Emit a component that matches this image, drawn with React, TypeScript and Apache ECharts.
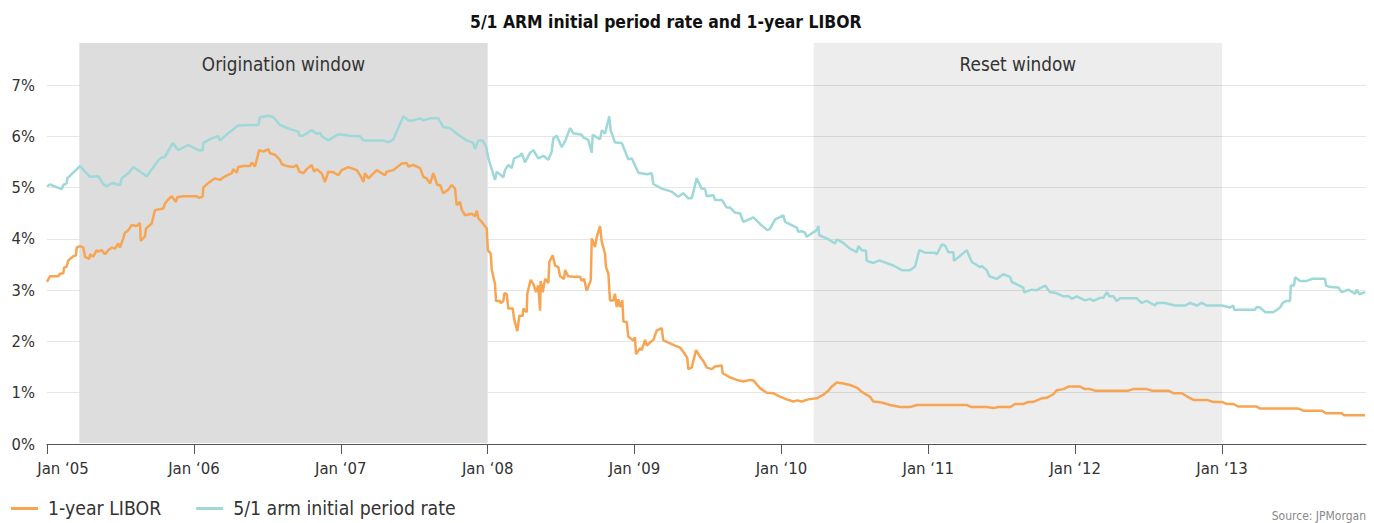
import React, { useEffect, useRef } from "react";
import * as echarts from "echarts";

const START_YEAR = 2005;
const END_YEAR = 2013.98;
const yearTicks = [2005, 2006, 2007, 2008, 2009, 2010, 2011, 2012, 2013];
const windowLabels = ["Origination window", "Reset window"];
const windowRanges: [number, number][] = [
  [2005.22, 2008.0],
  [2010.22, 2013.0],
];
const seriesNames = ["1-year LIBOR", "5/1 arm initial period rate"];

// [years since Jan 2005, rate %]
const liborData: [number, number][] = [
  [0, 3.16], [0.02, 3.27], [0.077, 3.27], [0.089, 3.32], [0.111, 3.33], [0.116, 3.44], [0.134, 3.46], [0.145, 3.58],
  [0.179, 3.66], [0.197, 3.68], [0.202, 3.83], [0.225, 3.86], [0.247, 3.83], [0.259, 3.65], [0.288, 3.61], [0.293, 3.7],
  [0.315, 3.65], [0.338, 3.78], [0.349, 3.75], [0.372, 3.78], [0.395, 3.7], [0.417, 3.78], [0.441, 3.83], [0.463, 3.81],
  [0.485, 3.91], [0.497, 3.83], [0.519, 4.01], [0.531, 4.12], [0.554, 4.17], [0.577, 4.27], [0.611, 4.25], [0.633, 4.31],
  [0.638, 3.96], [0.667, 4.05], [0.674, 4.2], [0.713, 4.3], [0.735, 4.56], [0.792, 4.59], [0.803, 4.69], [0.826, 4.77],
  [0.849, 4.83], [0.878, 4.72], [0.887, 4.81], [0.928, 4.83], [1.019, 4.83], [1.037, 4.8], [1.06, 4.83], [1.064, 5.0],
  [1.098, 5.09], [1.144, 5.18], [1.178, 5.15], [1.212, 5.22], [1.258, 5.28], [1.268, 5.36], [1.292, 5.29], [1.302, 5.4],
  [1.337, 5.42], [1.382, 5.42], [1.394, 5.49], [1.416, 5.41], [1.445, 5.73], [1.473, 5.7], [1.507, 5.75], [1.518, 5.67],
  [1.552, 5.64], [1.586, 5.54], [1.598, 5.46], [1.632, 5.42], [1.677, 5.4], [1.7, 5.44], [1.718, 5.31], [1.745, 5.28],
  [1.768, 5.36], [1.802, 5.44], [1.818, 5.31], [1.836, 5.36], [1.87, 5.28], [1.893, 5.11], [1.915, 5.31], [1.949, 5.3],
  [1.983, 5.24], [2.006, 5.34], [2.051, 5.4], [2.109, 5.34], [2.136, 5.22], [2.154, 5.11], [2.165, 5.28], [2.188, 5.18],
  [2.245, 5.34], [2.301, 5.24], [2.313, 5.31], [2.358, 5.34], [2.415, 5.47], [2.449, 5.48], [2.46, 5.41], [2.494, 5.44],
  [2.54, 5.38], [2.562, 5.21], [2.585, 5.18], [2.608, 5.08], [2.63, 5.28], [2.657, 5.05], [2.676, 5.05], [2.698, 4.89],
  [2.732, 4.96], [2.755, 5.05], [2.778, 4.98], [2.789, 4.66], [2.812, 4.72], [2.823, 4.57], [2.846, 4.46], [2.892, 4.49],
  [2.914, 4.44], [2.926, 4.55], [2.937, 4.4], [2.96, 4.33], [2.994, 4.2], [3.001, 3.78], [3.021, 3.71], [3.028, 3.4],
  [3.05, 3.12], [3.057, 2.79], [3.084, 2.79], [3.089, 2.75], [3.107, 2.79], [3.114, 2.94], [3.13, 2.92], [3.141, 2.64],
  [3.171, 2.64], [3.18, 2.44], [3.202, 2.2], [3.216, 2.5], [3.239, 2.5], [3.243, 2.64], [3.266, 2.57], [3.27, 2.93],
  [3.293, 3.2], [3.311, 3.12], [3.329, 2.96], [3.345, 3.09], [3.357, 2.6], [3.361, 3.18], [3.375, 2.96], [3.391, 3.22],
  [3.413, 3.14], [3.42, 3.55], [3.443, 3.68], [3.459, 3.48], [3.481, 3.45], [3.493, 3.27], [3.52, 3.22], [3.527, 3.39],
  [3.549, 3.27], [3.583, 3.26], [3.629, 3.26], [3.64, 3.18], [3.656, 3.22], [3.675, 2.99], [3.702, 3.19], [3.709, 4.01],
  [3.731, 3.84], [3.743, 4.04], [3.765, 4.25], [3.777, 3.94], [3.799, 3.71], [3.806, 3.45], [3.822, 3.32], [3.833, 2.8],
  [3.856, 2.8], [3.867, 2.93], [3.879, 2.67], [3.89, 2.82], [3.901, 2.67], [3.917, 2.8], [3.924, 2.39], [3.947, 2.38],
  [3.958, 2.09], [3.992, 2.02], [4.003, 2.08], [4.01, 1.75], [4.037, 1.87], [4.049, 1.83], [4.072, 2.03], [4.083, 1.92],
  [4.106, 1.98], [4.128, 2.03], [4.151, 2.21], [4.185, 2.26], [4.196, 2.02], [4.219, 1.99], [4.276, 1.92], [4.31, 1.88],
  [4.344, 1.75], [4.359, 1.68], [4.366, 1.46], [4.389, 1.49], [4.419, 1.83], [4.446, 1.7], [4.468, 1.62], [4.492, 1.49],
  [4.526, 1.46], [4.548, 1.51], [4.594, 1.53], [4.6, 1.38], [4.65, 1.3], [4.696, 1.25], [4.741, 1.22], [4.786, 1.25],
  [4.809, 1.24], [4.854, 1.09], [4.9, 1.0], [4.945, 0.99], [4.979, 0.94], [5.036, 0.87], [5.081, 0.83], [5.109, 0.85],
  [5.138, 0.83], [5.183, 0.87], [5.24, 0.89], [5.285, 0.96], [5.32, 1.04], [5.343, 1.12], [5.377, 1.2], [5.422, 1.18],
  [5.467, 1.15], [5.513, 1.1], [5.547, 1.02], [5.603, 0.92], [5.626, 0.83], [5.683, 0.81], [5.74, 0.76], [5.808, 0.72],
  [5.876, 0.72], [5.921, 0.76], [6.262, 0.76], [6.296, 0.72], [6.398, 0.72], [6.443, 0.7], [6.477, 0.72], [6.557, 0.72],
  [6.591, 0.78], [6.647, 0.78], [6.681, 0.82], [6.715, 0.82], [6.772, 0.89], [6.806, 0.9], [6.851, 0.97], [6.875, 1.05],
  [6.92, 1.07], [6.954, 1.12], [7.033, 1.12], [7.067, 1.07], [7.101, 1.07], [7.135, 1.04], [7.362, 1.04], [7.396, 1.07],
  [7.487, 1.07], [7.521, 1.04], [7.634, 1.04], [7.668, 0.99], [7.726, 0.99], [7.76, 0.93], [7.805, 0.86], [7.896, 0.86],
  [7.941, 0.82], [7.998, 0.82], [8.032, 0.78], [8.077, 0.78], [8.111, 0.73], [8.236, 0.73], [8.259, 0.69], [8.52, 0.69],
  [8.554, 0.65], [8.679, 0.65], [8.708, 0.6], [8.815, 0.6], [8.831, 0.56], [8.974, 0.56],
];

const armData: [number, number][] = [
  [0, 5.02], [0.02, 5.06], [0.1, 4.97], [0.111, 5.05], [0.134, 5.08], [0.138, 5.18], [0.225, 5.42], [0.259, 5.31],
  [0.293, 5.21], [0.349, 5.22], [0.383, 5.07], [0.406, 5.02], [0.441, 5.09], [0.497, 5.05], [0.509, 5.18], [0.554, 5.28],
  [0.588, 5.4], [0.679, 5.22], [0.735, 5.44], [0.769, 5.57], [0.803, 5.6], [0.856, 5.87], [0.894, 5.73], [0.962, 5.83],
  [1.03, 5.73], [1.06, 5.73], [1.064, 5.87], [1.121, 5.96], [1.166, 6.0], [1.178, 5.92], [1.234, 6.06], [1.302, 6.21],
  [1.382, 6.22], [1.439, 6.22], [1.45, 6.37], [1.507, 6.4], [1.541, 6.37], [1.586, 6.22], [1.654, 6.14], [1.711, 6.09],
  [1.718, 6.01], [1.745, 6.01], [1.802, 6.12], [1.836, 6.05], [1.859, 6.07], [1.87, 6.0], [1.915, 5.92], [1.983, 6.04],
  [2.063, 6.01], [2.131, 6.0], [2.154, 5.92], [2.29, 5.92], [2.324, 5.88], [2.358, 5.94], [2.426, 6.39], [2.46, 6.31],
  [2.494, 6.31], [2.54, 6.35], [2.562, 6.31], [2.608, 6.35], [2.664, 6.35], [2.698, 6.18], [2.744, 6.16], [2.789, 6.05],
  [2.858, 5.92], [2.902, 5.87], [2.914, 5.75], [2.937, 5.92], [2.966, 5.92], [2.989, 5.8], [3.005, 5.57], [3.05, 5.15],
  [3.062, 5.31], [3.107, 5.2], [3.118, 5.34], [3.141, 5.44], [3.164, 5.38], [3.18, 5.57], [3.22, 5.62], [3.232, 5.67],
  [3.254, 5.49], [3.289, 5.68], [3.311, 5.73], [3.345, 5.57], [3.379, 5.62], [3.413, 5.54], [3.436, 5.7], [3.447, 5.96],
  [3.47, 6.01], [3.504, 5.79], [3.527, 5.9], [3.561, 6.16], [3.583, 6.06], [3.64, 6.03], [3.651, 5.98], [3.685, 5.93],
  [3.709, 5.68], [3.715, 6.03], [3.765, 5.94], [3.777, 6.12], [3.799, 6.05], [3.828, 6.39], [3.838, 6.11], [3.867, 5.88],
  [3.913, 5.87], [3.958, 5.55], [3.981, 5.57], [4.026, 5.29], [4.083, 5.26], [4.117, 5.28], [4.128, 5.07], [4.185, 4.98],
  [4.253, 4.92], [4.298, 4.82], [4.332, 4.89], [4.366, 4.79], [4.389, 4.79], [4.423, 5.18], [4.457, 4.98], [4.48, 4.97],
  [4.492, 4.83], [4.537, 4.85], [4.548, 4.76], [4.594, 4.76], [4.628, 4.61], [4.65, 4.61], [4.684, 4.51], [4.718, 4.5],
  [4.741, 4.33], [4.809, 4.42], [4.854, 4.29], [4.904, 4.17], [4.923, 4.2], [4.957, 4.38], [5.013, 4.46], [5.025, 4.33],
  [5.104, 4.22], [5.115, 4.14], [5.138, 4.15], [5.161, 4.12], [5.172, 4.04], [5.24, 4.17], [5.252, 4.25], [5.258, 4.07],
  [5.309, 4.01], [5.365, 3.91], [5.377, 3.99], [5.422, 3.92], [5.467, 3.81], [5.513, 3.74], [5.524, 3.86], [5.547, 3.78],
  [5.576, 3.77], [5.581, 3.57], [5.626, 3.53], [5.667, 3.58], [5.762, 3.48], [5.819, 3.39], [5.876, 3.39], [5.91, 3.46],
  [5.939, 3.78], [5.978, 3.73], [6.046, 3.73], [6.058, 3.7], [6.092, 3.89], [6.114, 3.87], [6.137, 3.74], [6.171, 3.74],
  [6.175, 3.57], [6.262, 3.78], [6.296, 3.55], [6.352, 3.45], [6.364, 3.47], [6.398, 3.39], [6.416, 3.27], [6.466, 3.22],
  [6.511, 3.31], [6.557, 3.26], [6.568, 3.16], [6.647, 3.05], [6.652, 2.96], [6.704, 3.01], [6.738, 3.0], [6.795, 3.09],
  [6.829, 2.96], [6.863, 2.95], [6.92, 2.88], [6.954, 2.88], [6.977, 2.83], [7.011, 2.88], [7.067, 2.8], [7.101, 2.83],
  [7.124, 2.79], [7.169, 2.85], [7.192, 2.85], [7.215, 2.96], [7.233, 2.88], [7.26, 2.88], [7.283, 2.79], [7.306, 2.84],
  [7.419, 2.84], [7.453, 2.75], [7.487, 2.79], [7.544, 2.7], [7.555, 2.75], [7.612, 2.75], [7.68, 2.7], [7.748, 2.7],
  [7.782, 2.75], [7.828, 2.7], [7.862, 2.75], [7.896, 2.7], [7.998, 2.7], [8.054, 2.66], [8.077, 2.7], [8.082, 2.62],
  [8.225, 2.62], [8.236, 2.67], [8.259, 2.66], [8.293, 2.57], [8.349, 2.57], [8.395, 2.66], [8.413, 2.75], [8.436, 2.79],
  [8.463, 2.79], [8.468, 3.09], [8.49, 3.09], [8.497, 3.25], [8.531, 3.18], [8.577, 3.18], [8.611, 3.22], [8.701, 3.22],
  [8.708, 3.09], [8.735, 3.06], [8.792, 3.05], [8.815, 2.96], [8.86, 3.01], [8.906, 2.93], [8.917, 3.01], [8.935, 2.92],
  [8.974, 2.96],
];

export default function App() {
  const ref = useRef<HTMLDivElement>(null);

  useEffect(() => {
    if (!ref.current) return;
    document.body.style.margin = "0";
    const chart = echarts.init(ref.current, null, { renderer: "svg" });
    const font = "'DejaVu Sans Condensed', 'Liberation Sans Narrow', 'Noto Sans', sans-serif";
    const toPts = (arr: [number, number][]) => arr.map(([t, v]) => [START_YEAR + t, v]);
    const windowColors = ["#dddddd", "rgba(0,0,0,0.07)"];

    chart.setOption({
      animation: false,
      textStyle: { fontFamily: font },
      title: {
        text: "5/1 ARM initial period rate and 1-year LIBOR",
        left: 465,
        top: 8,
        textStyle: { fontSize: 17.4, fontWeight: "bold", color: "#111", fontFamily: font },
      },
      grid: [
        { left: 47, right: 8, top: 85, bottom: 79 },
        { left: 47, right: 8, top: 43, bottom: 80 },
      ],
      xAxis: [
        {
          type: "value",
          gridIndex: 0,
          min: START_YEAR,
          max: END_YEAR,
          interval: 1,
          axisLine: { lineStyle: { color: "#555", width: 1 } },
          axisTick: { customValues: yearTicks, length: 10, lineStyle: { color: "#555" } },
          axisLabel: {
            customValues: yearTicks,
            formatter: (v: number) => {
              const s = "Jan \u2018" + String(Math.round(v)).slice(2);
              return Math.round(v) === START_YEAR ? "{first|" + s + "}" : s;
            },
            rich: { first: { padding: [0, 0, 0, 32], fontSize: 16.6, color: "#333", fontFamily: font } },
            color: "#333",
            fontSize: 16.6,
            margin: 16,
            fontFamily: font,
          },
          splitLine: { show: false },
        },
        { type: "value", gridIndex: 1, min: START_YEAR, max: END_YEAR, show: false },
      ],
      yAxis: [
        {
          type: "value",
          gridIndex: 0,
          min: 0,
          max: 7,
          interval: 1,
          axisLine: { show: false },
          axisTick: { show: false },
          axisLabel: { formatter: "{value}%", color: "#333", fontSize: 16.4, margin: 12, fontFamily: font },
          splitLine: { lineStyle: { color: "#e6e6e6", width: 1 } },
        },
        { type: "value", gridIndex: 1, min: 0, max: 1, show: false },
      ],
      legend: {
        data: seriesNames,
        left: 11,
        top: 499,
        padding: 0,
        icon: "rect",
        itemWidth: 27,
        itemHeight: 3,
        itemGap: 35,
        textStyle: { fontSize: 19.3, color: "#333", fontFamily: font, padding: [0, 0, 0, 5] },
      },
      graphic: [
        {
          type: "text",
          right: 8,
          top: 510,
          style: { text: "Source: JPMorgan", fill: "#888", fontSize: 12, fontFamily: font },
        },
      ],
      series: [
        {
          type: "line",
          xAxisIndex: 1,
          yAxisIndex: 1,
          data: [],
          silent: true,
          markArea: {
            silent: true,
            data: windowRanges.map(([a, b], i) => [
              {
                xAxis: a,
                yAxis: 0,
                itemStyle: { color: windowColors[i] },
                label: {
                  show: true,
                  formatter: windowLabels[i],
                  position: "insideTop",
                  distance: 12,
                  color: "#333",
                  fontSize: 18.8,
                  fontFamily: font,
                },
              },
              { xAxis: b, yAxis: 1 },
            ]),
          },
        },
        {
          name: seriesNames[0],
          type: "line",
          xAxisIndex: 0,
          yAxisIndex: 0,
          data: toPts(liborData),
          showSymbol: false,
          lineStyle: { color: "#f7a552", width: 2.5 },
          itemStyle: { color: "#f7a552" },
        },
        {
          name: seriesNames[1],
          type: "line",
          xAxisIndex: 0,
          yAxisIndex: 0,
          data: toPts(armData),
          showSymbol: false,
          lineStyle: { color: "#9fd8d8", width: 2.5 },
          itemStyle: { color: "#9fd8d8" },
        },
      ],
    });

    return () => chart.dispose();
  }, []);

  return <div ref={ref} style={{ width: 1374, height: 523 }} />;
}
